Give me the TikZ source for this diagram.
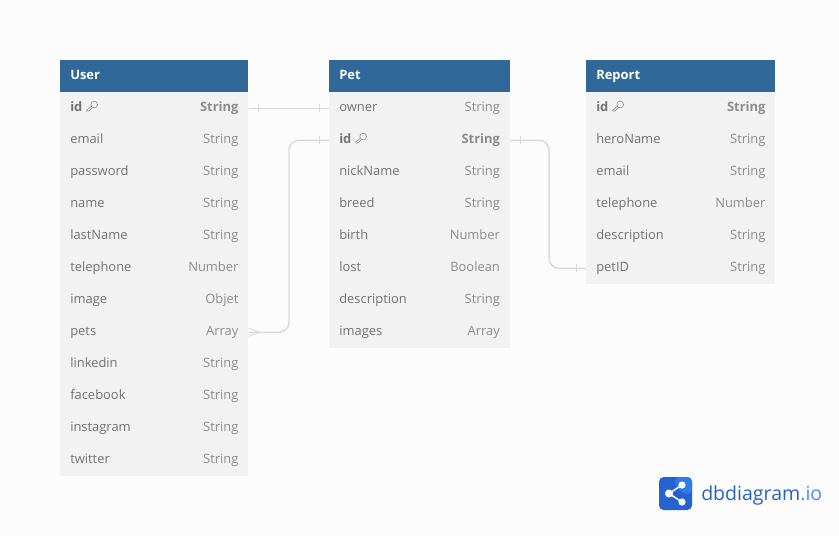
\documentclass[tikz,border=0pt]{standalone}
\usepackage{fontspec}
\setmainfont{Open Sans}
\usetikzlibrary{calc}
\definecolor{pagebg}{HTML}{FCFCFC}
\definecolor{headbg}{HTML}{30689A}
\definecolor{rowbg}{HTML}{F2F2F2}
\definecolor{rowtext}{HTML}{727272}
\definecolor{typetext}{HTML}{8C8C8C}
\definecolor{linkc}{HTML}{DADADA}
\definecolor{logoa}{HTML}{2563D0}
\definecolor{logob}{HTML}{2F7BEA}
\definecolor{logot}{HTML}{2A62C4}
\definecolor{logou}{HTML}{4C8EEA}
\tikzset{
  x=0.75pt,y=-0.75pt,
  tablehead/.style={anchor=north west,fill=headbg,draw=none,inner sep=0pt,minimum height=24pt},
  tablerow/.style={anchor=north west,fill=rowbg,draw=none,inner sep=0pt,minimum height=24pt},
  headtext/.style={anchor=base west,inner sep=0pt,text=white,font=\fontsize{9.7}{12}\selectfont\bfseries},
  fieldtext/.style={anchor=base west,inner sep=0pt,text=rowtext,font=\fontsize{9.7}{12}\selectfont},
  typelabel/.style={anchor=base east,inner sep=0pt,text=typetext,font=\fontsize{9.7}{12}\selectfont},
  pkfield/.style={fieldtext,font=\fontsize{9.7}{12}\selectfont\bfseries},
  pktype/.style={typelabel,font=\fontsize{9.7}{12}\selectfont\bfseries},
  link/.style={draw=linkc,line width=1.1pt,rounded corners=7.5pt},
  linkmark/.style={draw=linkc,line width=0.6pt},
  keyicon/.style={draw=typetext,line width=0.45pt,line join=round},
}
% #1 name, #2 x, #3 y of row top, #4 width, #5 field, #6 type
\newcommand{\dbrow}[6]{%
  \node[tablerow,minimum width=#4*0.75pt] (#1) at (#2,#3) {};
  \node[fieldtext] (#1-f) at (#2+10,#3+19) {#5};
  \node[typelabel] (#1-t) at (#2+#4-9.3,#3+19) {#6};
}
\newcommand{\dbpk}[6]{%
  \node[tablerow,minimum width=#4*0.75pt] (#1) at (#2,#3) {};
  \node[pkfield] (#1-f) at (#2+10,#3+19) {#5};
  \node[pktype] (#1-t) at (#2+#4-9.3,#3+19) {#6};
  \draw[keyicon] ($(#1-f.base east)+(11.5,-6.5)$) circle[radius=3.4];
  \draw[keyicon] ($(#1-f.base east)+(8.6,-4.6)$) -- ($(#1-f.base east)+(4,-0.8)$) -- ($(#1-f.base east)+(4.4,0)$) -- ($(#1-f.base east)+(6.4,0)$) -- ($(#1-f.base east)+(9.8,-3.4)$);
}
\begin{document}
\begin{tikzpicture}
\useasboundingbox (0,0) rectangle (839,536);
\fill[pagebg] (0,0) rectangle (839,536);

% User
\node[tablehead,minimum width=141pt] (user) at (60,60) {};
\node[headtext] (user-h) at (70,79) {User};
\dbpk{uid}{60}{92}{188}{id}{String}
\dbrow{uemail}{60}{124}{188}{email}{String}
\dbrow{upassword}{60}{156}{188}{password}{String}
\dbrow{uname}{60}{188}{188}{name}{String}
\dbrow{ulastname}{60}{220}{188}{lastName}{String}
\dbrow{utelephone}{60}{252}{188}{telephone}{Number}
\dbrow{uimage}{60}{284}{188}{image}{Objet}
\dbrow{upets}{60}{316}{188}{pets}{Array}
\dbrow{ulinkedin}{60}{348}{188}{linkedin}{String}
\dbrow{ufacebook}{60}{380}{188}{facebook}{String}
\dbrow{uinstagram}{60}{412}{188}{instagram}{String}
\dbrow{utwitter}{60}{444}{188}{twitter}{String}

% Pet
\node[tablehead,minimum width=135.4pt] (pet) at (329,60) {};
\node[headtext] (pet-h) at (339,79) {Pet};
\dbrow{powner}{329}{92}{180.5}{owner}{String}
\dbpk{pid}{329}{124}{180.5}{id}{String}
\dbrow{pnickname}{329}{156}{180.5}{nickName}{String}
\dbrow{pbreed}{329}{188}{180.5}{breed}{String}
\dbrow{pbirth}{329}{220}{180.5}{birth}{Number}
\dbrow{plost}{329}{252}{180.5}{lost}{Boolean}
\dbrow{pdescription}{329}{284}{180.5}{description}{String}
\dbrow{pimages}{329}{316}{180.5}{images}{Array}

% Report
\node[tablehead,minimum width=141.75pt] (report) at (586,60) {};
\node[headtext] (report-h) at (596,79) {Report};
\dbpk{rid}{586}{92}{189}{id}{String}
\dbrow{rheroname}{586}{124}{189}{heroName}{String}
\dbrow{remail}{586}{156}{189}{email}{String}
\dbrow{rtelephone}{586}{188}{189}{telephone}{Number}
\dbrow{rdescription}{586}{220}{189}{description}{String}
\dbrow{rpetid}{586}{252}{189}{petID}{String}

% Connectors
\draw[link] (uid.east) -- (powner.west);
\draw[link] (pid.west) -- ++(-40,0) |- (upets.east);
\draw[link] (pid.east) -- ++(39,0) |- (rpetid.west);

% Cardinality marks
\draw[linkmark] ($(uid.east)+(10,-4)$) -- ($(uid.east)+(10,4)$);
\draw[linkmark] ($(powner.west)+(-10,-4)$) -- ($(powner.west)+(-10,4)$);
\draw[linkmark] ($(pid.west)+(-10,-4)$) -- ($(pid.west)+(-10,4)$);
\draw[linkmark] ($(pid.east)+(10,-4)$) -- ($(pid.east)+(10,4)$);
\draw[linkmark] ($(rpetid.west)+(-10,-4)$) -- ($(rpetid.west)+(-10,4)$);
\draw[linkmark] ($(upets.east)+(0,-4)$) -- ($(upets.east)+(12,0)$) -- ($(upets.east)+(0,4)$);

% Logo
\fill[logoa,rounded corners=3.5pt] (659,477) rectangle (692,510);
\fill[logob,rounded corners=3.5pt] (675,477) -- (692,477) -- (692,494) -- (684,494) -- (675,486) -- cycle;
\draw[white,line width=1.1pt] (669,493.5) -- (682,485) (669,493.5) -- (682,502);
\fill[white] (669,493.5) circle[radius=4] (682,485) circle[radius=3.6] (682,502) circle[radius=3.6];
\node[anchor=base west,inner sep=0pt,font=\fontsize{14.65}{18}\selectfont] (brand) at (701,500) {\textcolor{logot}{dbdiagram}\textcolor{logou}{.io}};
\end{tikzpicture}
\end{document}
